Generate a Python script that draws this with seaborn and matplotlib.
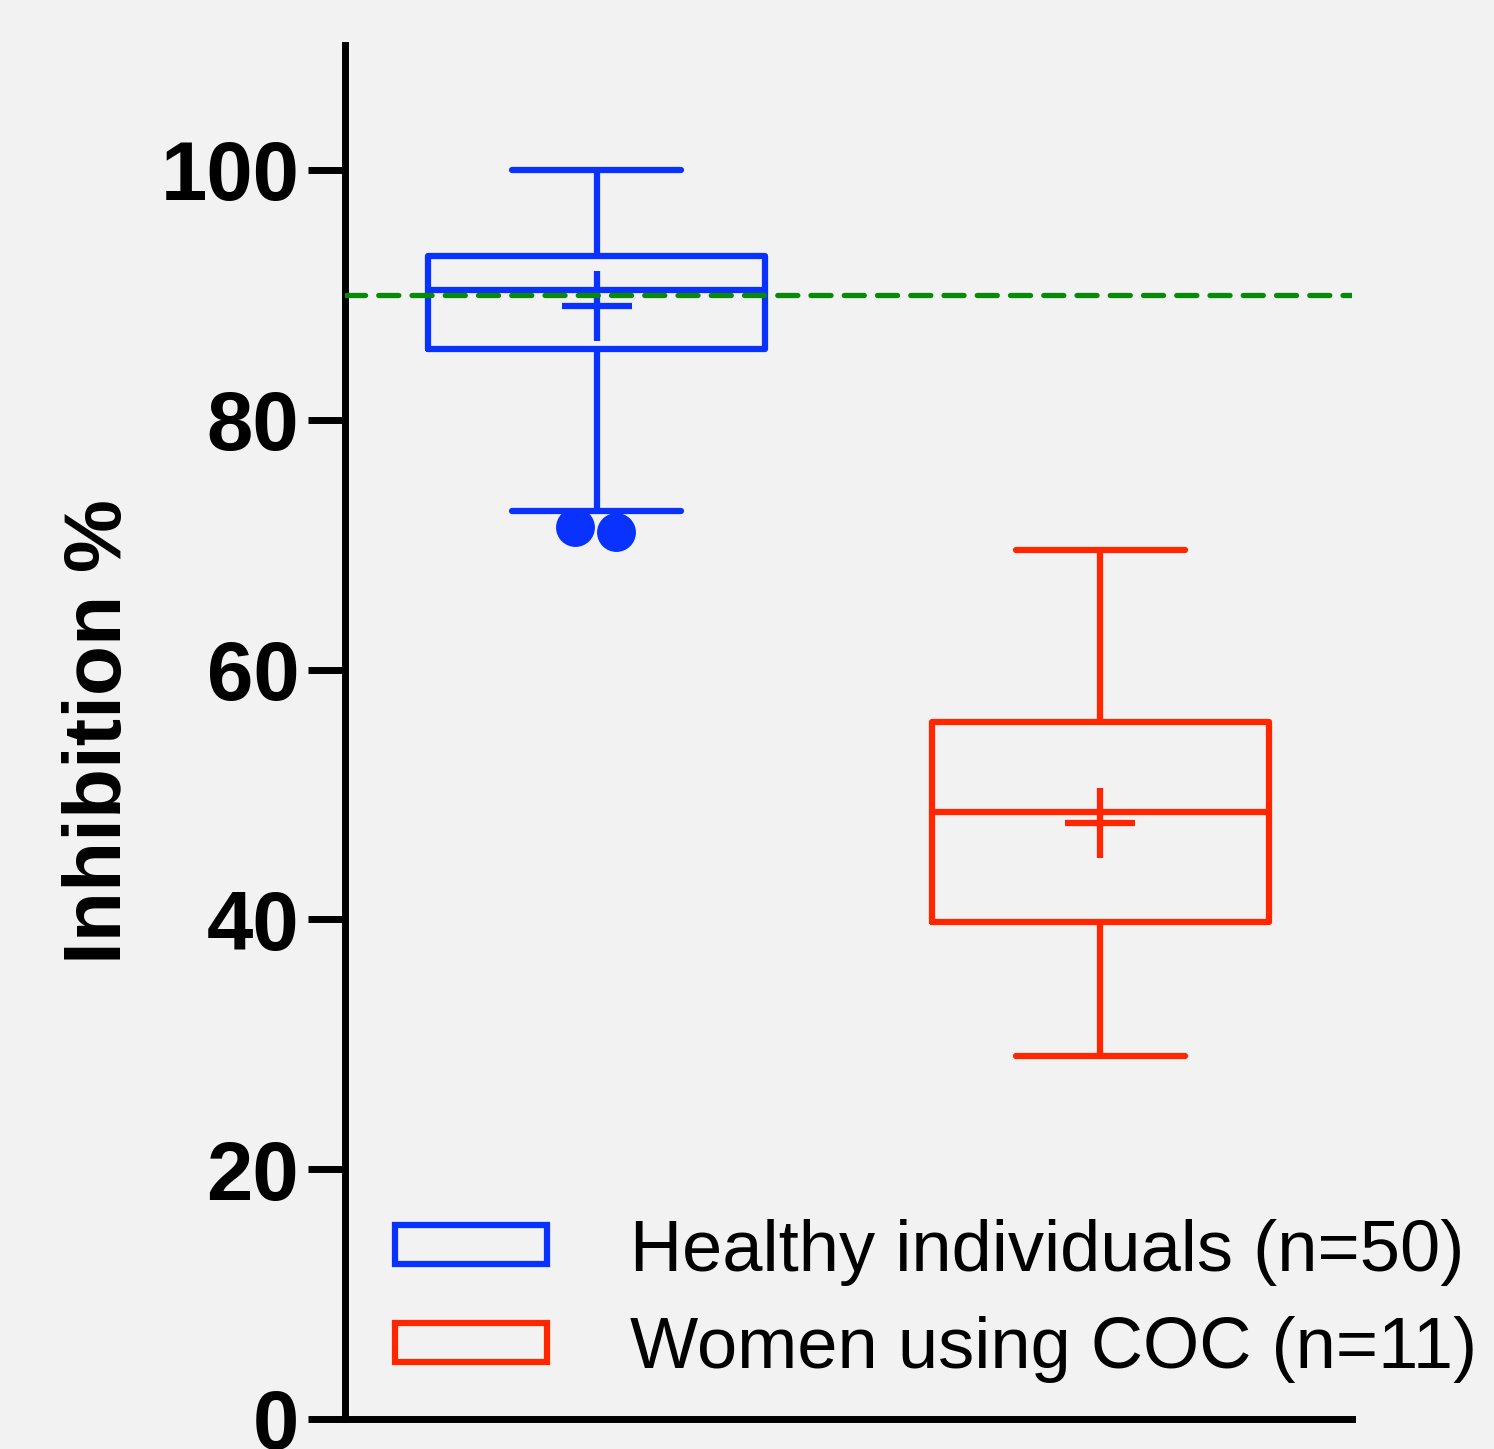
import matplotlib
matplotlib.use("Agg")
import matplotlib.pyplot as plt
import matplotlib.transforms as mtransforms
import seaborn as sns
import pandas as pd
from matplotlib.patches import Patch

# ---- data ----
groups = ["Healthy individuals (n=50)", "Women using COC (n=11)"]
whisker_low = [72.7, 29.1]
q1 = [85.7, 39.8]
median = [90.4, 48.6]
q3 = [93.1, 55.8]
whisker_high = [100.0, 69.6]
means = [89.1, 47.7]
outlier_groups = ["Healthy individuals (n=50)", "Healthy individuals (n=50)"]
outlier_values = [71.4, 71.0]
reference_line = 90.0
yticks = [0, 20, 40, 60, 80, 100]
ylabel = "Inhibition %"

colors = ["#0a32ff", "#ff2600"]
green = "#078a07"
bg = "#f2f2f2"

# box data: five summary values per group -> quartiles reproduce exactly
rows = []
for g, a, b, c, d, e in zip(groups, whisker_low, q1, median, q3, whisker_high):
    for v in (a, b, c, d, e):
        rows.append({"group": g, "value": v})
box_df = pd.DataFrame(rows)
mean_df = pd.DataFrame({"group": groups, "mean": means})
out_df = pd.DataFrame({"group": outlier_groups, "value": outlier_values})

sns.set_theme(style="ticks")
plt.rcParams["font.family"] = ["Liberation Sans", "DejaVu Sans"]
plt.rcParams["text.color"] = "black"
plt.rcParams["axes.labelcolor"] = "black"
plt.rcParams["ytick.color"] = "black"
plt.rcParams["ytick.labelcolor"] = "black"

W, H = 1494, 1449
fig = plt.figure(figsize=(W / 100, H / 100), dpi=100, facecolor=bg)
ax = fig.add_axes([345 / W, 30 / H, 1007 / W, 1374 / H])
ax.set_facecolor(bg)

palette = dict(zip(groups, colors))

sns.boxplot(data=box_df, x="group", y="value", hue="group", order=groups,
            hue_order=groups, palette=palette, fill=False, width=0.67,
            whis=(0, 100), linewidth=4.5, showfliers=False, legend=False,
            ax=ax)

sns.pointplot(data=mean_df, x="group", y="mean", hue="group", order=groups,
              hue_order=groups, palette=palette, markers="+", linestyle="none",
              errorbar=None, legend=False, markersize=51, markeredgewidth=4.5,
              ax=ax)

n_before = len(ax.collections)
sns.swarmplot(data=out_df, x="group", y="value", order=groups,
              color=colors[0], size=28, ax=ax)
# centre the swarm pair around the box axis
for coll in ax.collections[n_before:]:
    coll.set_offset_transform(
        ax.transData + mtransforms.ScaledTranslation(0.19, 0, fig.dpi_scale_trans))

ax.axhline(reference_line, color=green, lw=3.8, ls=(0, (3.8, 2.5)),
           dash_capstyle="round", zorder=5)

ax.set_xlim(-0.5, 1.5)
ax.set_ylim(0, 110)
ax.set_yticks(yticks)
ax.set_yticklabels([str(t) for t in yticks], fontweight="bold", fontsize=60)
ax.set_xticks([])
ax.set_xlabel("")
ax.set_ylabel(ylabel, fontsize=59, fontweight="bold", labelpad=16)
ax.tick_params(axis="y", length=27, width=5, pad=6, color="black")
for s in ("top", "right"):
    ax.spines[s].set_visible(False)
for s in ("left", "bottom"):
    ax.spines[s].set_linewidth(5)
    ax.spines[s].set_color("black")

handles = [Patch(facecolor="none", edgecolor=c, linewidth=4.5) for c in colors]
fig.legend(handles, groups, loc="lower right",
           bbox_to_anchor=(1513 / W, (H - 1419) / H), frameon=False,
           fontsize=52, handlelength=2.1, handleheight=0.45,
           handletextpad=1.15, labelspacing=0.42, borderpad=0)

fig.savefig("out.png", dpi=100, facecolor=bg)
